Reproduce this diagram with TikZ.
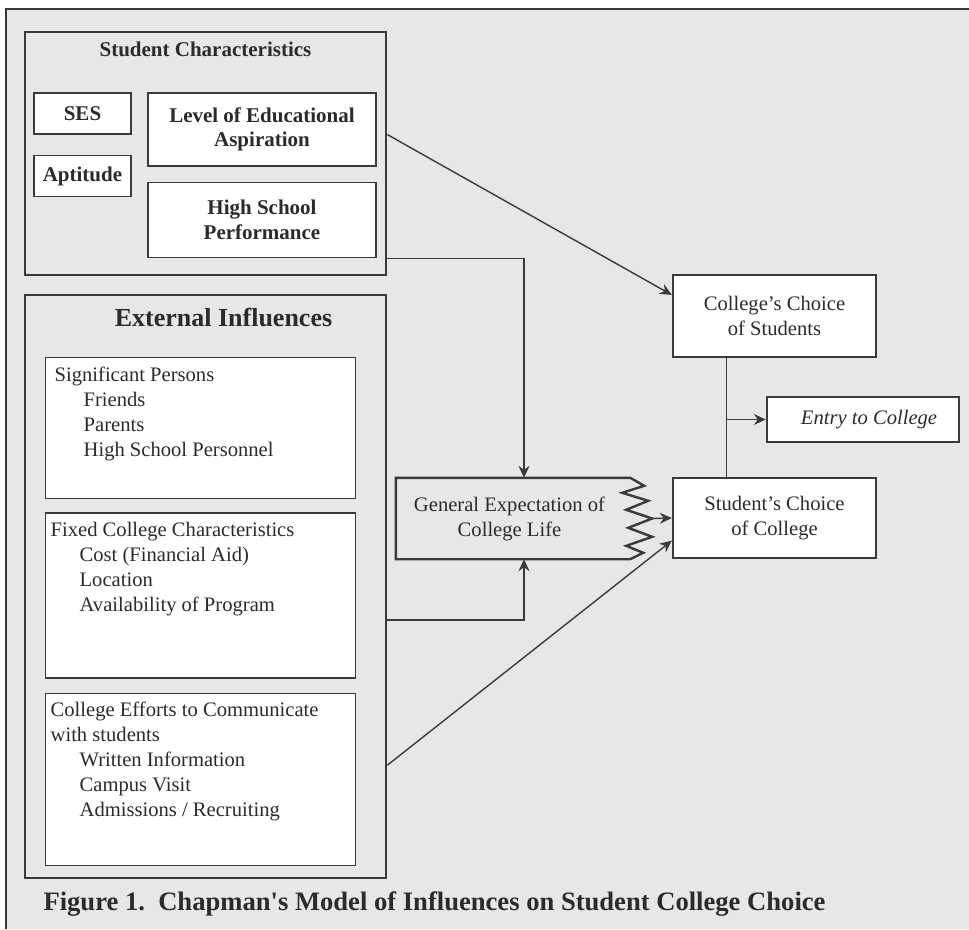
\documentclass[tikz,border=0pt]{standalone}
\usepackage{fontspec}
\setmainfont{Liberation Serif}
\newfontfamily\capfont{Liberation Serif}
\usepackage{tikz}
\usetikzlibrary{calc}
\usetikzlibrary{arrows.meta}
\usetikzlibrary{positioning}
\definecolor{linec}{HTML}{3A3A3A}
\definecolor{textc}{HTML}{2B2B2B}
\definecolor{bgc}{HTML}{E6E7E9}
\newcommand{\boxfont}{\fontsize{20.6}{25}\selectfont}
\newcommand{\itemfont}{\fontsize{21}{24.5}\selectfont\bfseries}
\newcommand{\listpar}[2]{\begin{minipage}[t][#1][t]{300pt}#2\end{minipage}}
\tikzset{groupbox/.style={rectangle,draw=linec,line width=2.8pt},
 itembox/.style={rectangle,fill=white,draw=linec,line width=1.5pt,font=\itemfont,align=center},
 listbox/.style={rectangle,fill=white,draw=linec,line width=1.3pt,anchor=north west,inner xsep=5pt,inner ysep=9pt},
 choicebox/.style={rectangle,fill=white,draw=linec,line width=2.4pt,align=center,minimum width=203pt},
 link/.style={draw=linec,line width=1.4pt,-{Stealth[length=12pt,width=11pt,inset=4pt]}},
 plain/.style={draw=linec,line width=1.4pt}}

\begin{document}
\begin{tikzpicture}[x=1pt,y=-1pt,font=\boxfont,text=textc]
\useasboundingbox (0,0) rectangle (969,929);
\fill[bgc] (6,9) rectangle (969,929);
\draw[linec,line width=2.6pt] (969,9) -- (6,9) -- (6,929);

% student characteristics
\node[groupbox, minimum width=361pt, minimum height=243pt] (stuchar) at (205.5,153.5) {};
\node[anchor=base, font=\itemfont] (stuchar-t) at ($(stuchar.north)+(0,26)$) {Student Characteristics};
\node[itembox, minimum width=97pt, minimum height=41pt] (ses) at (82.5,113.5) {SES};
\node[itembox, minimum width=97pt, minimum height=41pt, below=20pt of ses] (apt) {Aptitude};
\node[itembox, minimum width=228pt, minimum height=73pt] (level) at (262,129.5) {Level of Educational\\Aspiration};
\node[itembox, minimum width=228pt, minimum height=75pt, below=15pt of level] (perf) {High School\\Performance};

% external influences
\node[groupbox, minimum width=361pt, minimum height=583pt] (extinf) at (205.5,586.5) {};
\node[anchor=base, font=\fontsize{26}{30}\selectfont\bfseries] (extinf-t) at ($(extinf.north)+(18,33)$) {External Influences};
\node[listbox] (persons) at (45,357) {\listpar{123pt}{\hspace*{4pt}Significant Persons\\
 \hspace*{33pt}Friends\\ \hspace*{33pt}Parents\\ \hspace*{33pt}High School Personnel}};
\node[listbox, below=13pt of persons] (fixed) {\listpar{147pt}{Fixed College Characteristics\\
 \hspace*{29pt}Cost (Financial Aid)\\ \hspace*{29pt}Location\\ \hspace*{29pt}Availability of Program}};
\node[listbox, below=14pt of fixed] (efforts) {\listpar{154pt}{College Efforts to Communicate\\
 with students\\ \hspace*{29pt}Written Information\\ \hspace*{29pt}Campus Visit\\ \hspace*{29pt}Admissions / Recruiting}};

% expectation, with its ragged edge
\node[minimum width=256pt, minimum height=81pt, inner sep=0pt] (genexp) at (524,518.5)
 {\begin{tabular}{@{}c@{\hspace{29pt}}}General Expectation of\\College Life\end{tabular}};
\draw[linec, line width=2.4pt, line join=miter] (genexp.north west) -- ($(genexp.north east)+(-22,0)$)
 -- ($(genexp.north east)+(-8,8)$) -- ($(genexp.north east)+(-30,15)$)
 -- ($(genexp.north east)+(-4,23)$) -- ($(genexp.north east)+(-26,32)$)
 -- (genexp.east) -- ($(genexp.north east)+(-24,50)$)
 -- ($(genexp.north east)+(0,59)$) -- ($(genexp.north east)+(-26,68)$)
 -- ($(genexp.north east)+(-9,75)$) -- ($(genexp.south east)+(-22,0)$)
 -- (genexp.south west) -- cycle;

% choices
\node[choicebox, minimum height=82pt] (colchoice) at (774.5,316) {College's Choice\\of Students};
\node[choicebox, minimum height=80pt] (stuchoice) at (774.5,518) {Student's Choice\\of College};
\node[choicebox, minimum width=192pt, minimum height=45pt, font=\boxfont\itshape] (entry) at (863,419.5) {\hspace*{12pt}Entry to College};
\coordinate (split) at ($(colchoice.south west)!0.266!(colchoice.south east)$);
\draw[plain] (split) -- (split |- stuchoice.north);
\draw[link] (split |- entry.west) -- (entry.west);

% connectors
\draw[link] ($(stuchar.north east)!0.423!(stuchar.south east)$) -- ($(colchoice.north west)!0.25!(colchoice.south west)$);
\draw[link] (perf.south -| stuchar.east) -| (genexp.north);
\draw[link] ($(extinf.north east)!0.557!(extinf.south east)$) -| (genexp.south);
\draw[link] ($(extinf.north east)!0.805!(extinf.south east)$) -- ($(stuchoice.north west)!0.775!(stuchoice.south west)$);
\draw[link] (genexp.east) -- (stuchoice.west);

\node[anchor=base west, font=\capfont\fontsize{26.6}{30}\selectfont\bfseries] (caption) at (40,910)
 {Figure 1.\ \ Chapman's Model of Influences on Student College Choice};
\end{tikzpicture}
\end{document}
